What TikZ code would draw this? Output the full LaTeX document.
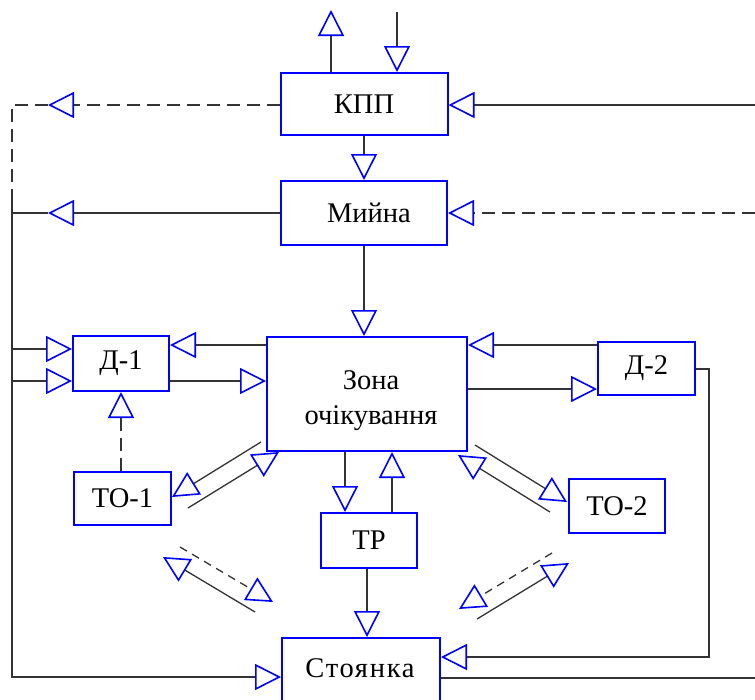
\documentclass[tikz,border=0pt]{standalone}
\usepackage{fontspec}
\setmainfont{Liberation Serif}
\usetikzlibrary{arrows.meta}
\begin{document}
\begin{tikzpicture}[x=1pt,y=-1pt,
  box/.style={draw=blue, line width=2pt, inner sep=0pt, font=\fontsize{28.5}{35}\selectfont, align=center},
  lbl/.style={inner sep=0pt, font=\fontsize{28.5}{35}\selectfont},
  conn/.style={draw=black!80, line width=2pt},
  thin/.style={draw=black!80, line width=1.3pt},
  ar/.style={-{Triangle[open, length=26pt, width=26pt, line width=1.6pt, blue]}},
  dsh/.style={dash pattern=on 13pt off 7pt},
  dshs/.style={dash pattern=on 8pt off 6pt}]
\useasboundingbox (0,0) rectangle (755,699);
\clip (0,0) rectangle (755,699);
% boxes
\node[box, minimum width=167pt, minimum height=62pt] (kpp) at (364,104) {КПП};
\node[box, minimum width=166pt, minimum height=64pt] (my) at (364,213) {\hspace*{10pt}Мийна};
\node[box, minimum width=200pt, minimum height=114pt] (zona) at (367,394) {};
\node[lbl] (zt) at (371,400) {\begin{tabular}{@{}c@{}}Зона\\очікування\end{tabular}};
\node[box, minimum width=96pt, minimum height=55pt] (d1) at (121,363.5) {Д-1};
\node[box, minimum width=97pt, minimum height=53pt] (d2) at (646.5,368.5) {Д-2};
\node[box, minimum width=97pt, minimum height=53pt] (to1) at (122.5,498.5) {ТО-1};
\node[box, minimum width=96pt, minimum height=54pt] (to2) at (617,506) {ТО-2};
\node[box, minimum width=96pt, minimum height=55pt] (tr) at (369,540.5) {ТР};
\node[box, minimum width=158pt, minimum height=90pt, anchor=north west] (st) at (281,637) {};
\node[lbl] (stt) at (360,668) {\addfontfeature{LetterSpace=6}Стоянка};
% coordinates
\coordinate (in) at (397,12);
\coordinate (out) at (331,10);
\coordinate (kl) at (48,105);
\coordinate (lt) at (12,105);
\coordinate (ld) at (12,200);
\coordinate (ml) at (48,213);
\coordinate (ms) at (12,213);
\coordinate (lb) at (12,677);
\coordinate (r1) at (755,105);
\coordinate (r2) at (755,213);
\coordinate (rc) at (709,657);
\coordinate (r3) at (755,678);
% top
\draw[conn, ar] (kpp.north -| out) -- (out);
\draw[conn, ar] (in) -- (in |- kpp.north);
\draw[conn, ar] (r1) -- (kpp.east |- r1);
\draw[conn, dsh, ar] (kpp.west |- kl) -- (kl);
\draw[conn, dsh] (kl) -- (lt) -- (ld);
\draw[conn, ar] (kpp.south) -- (my.north);
\draw[conn, dsh, ar] (r2) -- (my.east |- r2);
\draw[conn, ar] (my.west |- ml) -- (ml);
\draw[conn] (ml) -- (ms);
\draw[conn, ar] (my.south) -- (my.south |- zona.north);
% left bus
\draw[conn, ar] (ld) -- (lb) -- (st.west |- lb);
\draw[conn, ar] (12,349) -- (d1.west |- 0,349);
\draw[conn, ar] (12,381) -- (d1.west |- 0,381);
\draw[conn, ar] (zona.west |- 0,345) -- (d1.east |- 0,345);
\draw[conn, ar] (d1.east |- 0,381) -- (zona.west |- 0,381);
\draw[conn, dsh, ar] (to1.north -| d1.south) -- (d1.south);
% right
\draw[conn, ar] (d2.west |- 0,345) -- (zona.east |- 0,345);
\draw[conn, ar] (zona.east |- 0,389) -- (d2.west |- 0,389);
\draw[conn, ar] (d2.east |- 0,369) -| (rc) -- (st.east |- rc);
\draw[conn] (st.east |- r3) -- (r3);
% TR
\draw[conn, ar] (zona.south -| 345,0) -- (tr.north -| 345,0);
\draw[conn, ar] (tr.north -| 392,0) -- (zona.south -| 392,0);
\draw[conn, ar] (tr.south -| 367,0) -- (st.north -| 367,0);
% diagonals
\coordinate (a1) at (261,442); \coordinate (a2) at (172,497);
\coordinate (b1) at (188,508); \coordinate (b2) at (279,452);
\coordinate (c1) at (475,445); \coordinate (c2) at (567,502);
\coordinate (d1s) at (550,512); \coordinate (d2s) at (458,455);
\coordinate (e1) at (180,547); \coordinate (e2) at (273,602);
\coordinate (f1) at (255,612); \coordinate (f2) at (163,557);
\coordinate (g1) at (552,553); \coordinate (g2) at (459,609);
\coordinate (h1) at (477,619); \coordinate (h2) at (569,563);
\draw[thin, ar] (a1) -- (a2);
\draw[thin, ar] (b1) -- (b2);
\draw[thin, ar] (c1) -- (c2);
\draw[thin, ar] (d1s) -- (d2s);
\draw[thin, dshs, ar] (e1) -- (e2);
\draw[thin, ar] (f1) -- (f2);
\draw[thin, dshs, ar] (g1) -- (g2);
\draw[thin, ar] (h1) -- (h2);
\end{tikzpicture}
\end{document}
